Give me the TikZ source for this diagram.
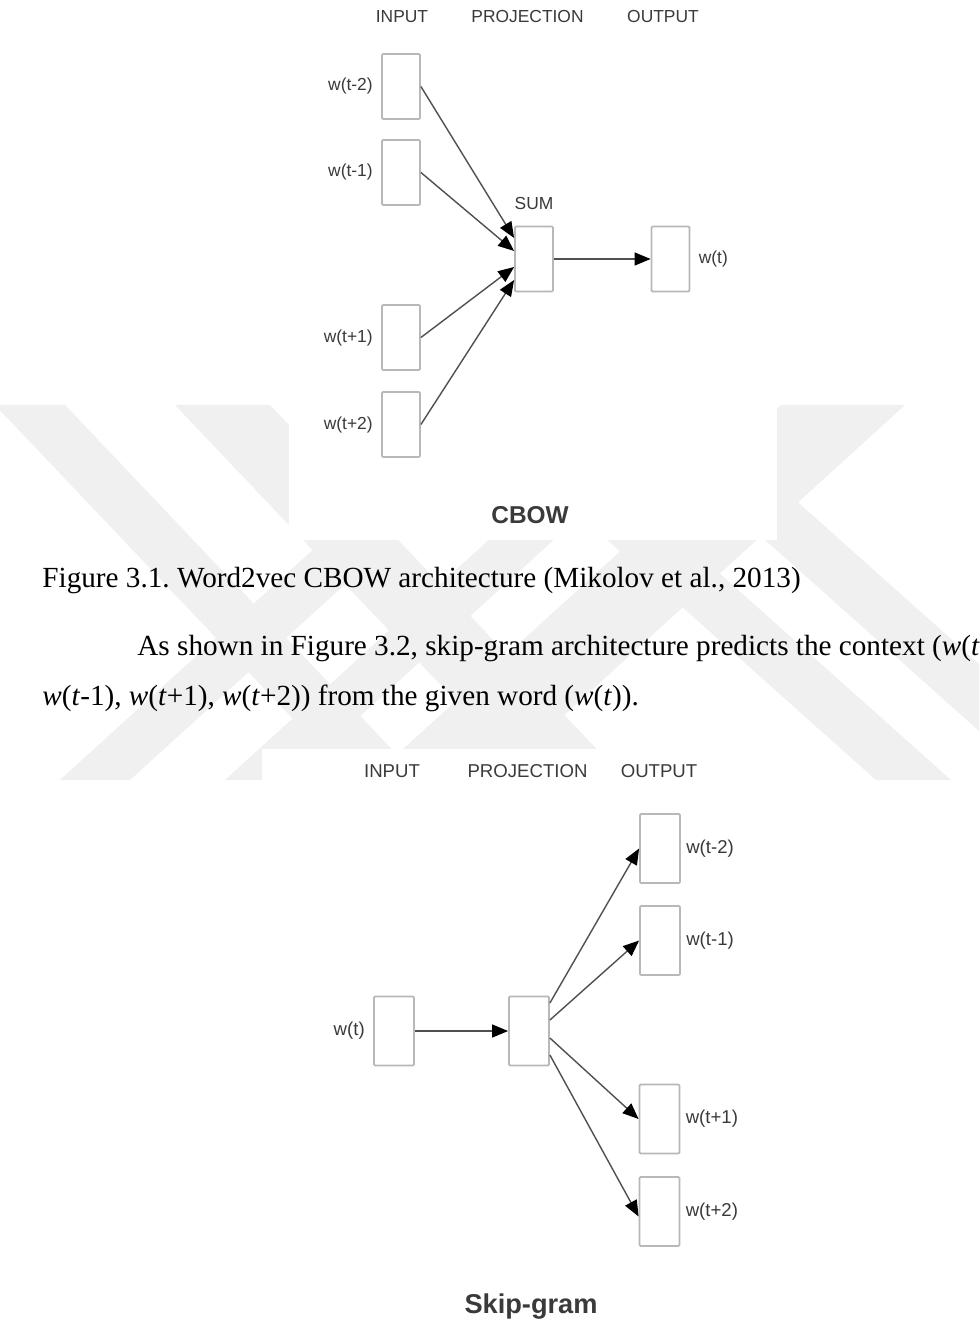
\documentclass[tikz,border=0pt]{standalone}
\usepackage{fontspec}
\setmainfont{Liberation Serif}
\setsansfont{Liberation Sans}
\usetikzlibrary{positioning,arrows.meta}
\frenchspacing

\definecolor{wmgray}{HTML}{F0F0F0}
\definecolor{boxgray}{HTML}{B8B8B8}
\definecolor{lblgray}{HTML}{3A3A3A}
\definecolor{linegray}{HTML}{505050}

\tikzset{
  vecbox/.style={draw=boxgray, line width=0.9pt, rounded corners=0.6pt,
    minimum width=19pt, minimum height=32.5pt, inner sep=0pt},
  vecboxb/.style={vecbox, minimum width=20pt, minimum height=34.5pt},
  lbl/.style={text=lblgray, inner sep=1pt,
    font=\sffamily\fontsize{8.7}{10}\selectfont},
  lblb/.style={lbl, font=\sffamily\fontsize{9.3}{11}\selectfont},
  ttl/.style={text=lblgray, font=\sffamily\bfseries\fontsize{12.2}{14}\selectfont},
  body/.style={anchor=base west, inner sep=0pt,
    font=\fontsize{14.6}{17}\selectfont},
  arr/.style={draw=linegray, line width=0.7pt,
    -{Triangle[length=8pt,width=6.5pt,color=black]}},
  band/.style={fill=wmgray}
}

\begin{document}
\begin{tikzpicture}[x=0.5pt,y=-0.5pt]
\clip (0,0) rectangle (979,1325);
\fill[white] (0,0) rectangle (979,1325);

% watermark
\fill[band] (-5,405) -- (65,405) -- (421,780) -- (351,780) -- cycle;
\fill[band] (175,405) -- (270,405) -- (626,780) -- (531,780) -- cycle;
\fill[band] (456,405) -- (531,405) -- (951,780) -- (876,780) -- cycle;
\fill[band] (614,405) -- (689,405) -- (1109,780) -- (1034,780) -- cycle;
\fill[band] (472,405) -- (542,405) -- (130,780) -- (60,780) -- cycle;
\fill[band] (637,405) -- (702,405) -- (290,780) -- (225,780) -- cycle;
\fill[band] (781,405) -- (905,405) -- (493,780) -- (369,780) -- cycle;
\fill[white] (289,0) rectangle (777,540);
\fill[white] (262,749) rectangle (778,1325);

% CBOW
\node[lbl] (hin) at (402,17) {INPUT};
\node[lbl] (hproj) at (527.5,17) {PROJECTION};
\node[lbl] (hout) at (663,17) {OUTPUT};
\node[vecbox] (cm2) at (401,86.5) {};
\node[vecbox] (cm1) at (401,172.5) {};
\node[vecbox] (cp1) at (401,337.5) {};
\node[vecbox] (cp2) at (401,424.5) {};
\node[vecbox] (sum) at (534,259) {};
\node[vecbox] (cout) at (670.5,259) {};
\node[lbl, left=3pt of cm2] (lcm2) {w(t-2)};
\node[lbl, left=3pt of cm1] (lcm1) {w(t-1)};
\node[lbl, left=3pt of cp1] (lcp1) {w(t+1)};
\node[lbl, left=3pt of cp2] (lcp2) {w(t+2)};
\node[lbl, above=7pt of sum] (lsum) {SUM};
\node[lbl, right=3pt of cout] (lcout) {w(t)};
\node[ttl] (tcbow) at (530,515) {CBOW};
\draw[arr] (cm2.east) -- ([yshift=10.5pt]sum.west);
\draw[arr] (cm1.east) -- ([yshift=4pt]sum.west);
\draw[arr] (cp1.east) -- ([yshift=-4pt]sum.west);
\draw[arr] (cp2.east) -- ([yshift=-10.5pt]sum.west);
\draw[arr] (sum.east) -- (cout.west);

% text
\node[body] (cap) at (42,587) {Figure 3.1. Word2vec CBOW architecture (Mikolov et al., 2013)};
\node[body] (par1) at (137,655) {As shown in Figure 3.2, skip-gram architecture predicts the context (\textit{w}(\textit{t}-2),};
\node[body] (par2) at (42,705) {\textit{w}(\textit{t}-1), \textit{w}(\textit{t}+1), \textit{w}(\textit{t}+2)) from the given word (\textit{w}(\textit{t})).};

% Skip-gram
\node[lblb] (shin) at (392,771) {INPUT};
\node[lblb] (shproj) at (527.5,771) {PROJECTION};
\node[lblb] (shout) at (659,771) {OUTPUT};
\node[vecboxb] (sw) at (394,1031) {};
\node[vecboxb] (proj) at (529,1031) {};
\node[vecboxb] (sm2) at (660,848.5) {};
\node[vecboxb] (sm1) at (660,940.5) {};
\node[vecboxb] (sp1) at (659.5,1119) {};
\node[vecboxb] (sp2) at (659.5,1211.5) {};
\node[lblb, left=3pt of sw] (lsw) {w(t)};
\node[lblb, right=1.5pt of sm2] (lsm2) {w(t-2)};
\node[lblb, right=1.5pt of sm1] (lsm1) {w(t-1)};
\node[lblb, right=1.5pt of sp1] (lsp1) {w(t+1)};
\node[lblb, right=1.5pt of sp2] (lsp2) {w(t+2)};
\node[ttl, font=\sffamily\bfseries\fontsize{13.6}{16}\selectfont] (tskip) at (531,1307) {Skip-gram};
\draw[arr] (sw.east) -- (proj.west);
\draw[arr] ([yshift=14pt]proj.east) -- (sm2.west);
\draw[arr] ([yshift=5.5pt]proj.east) -- (sm1.west);
\draw[arr] ([yshift=-3.5pt]proj.east) -- (sp1.west);
\draw[arr] ([yshift=-12pt]proj.east) -- ([yshift=-2.5pt]sp2.west);
\end{tikzpicture}
\end{document}
